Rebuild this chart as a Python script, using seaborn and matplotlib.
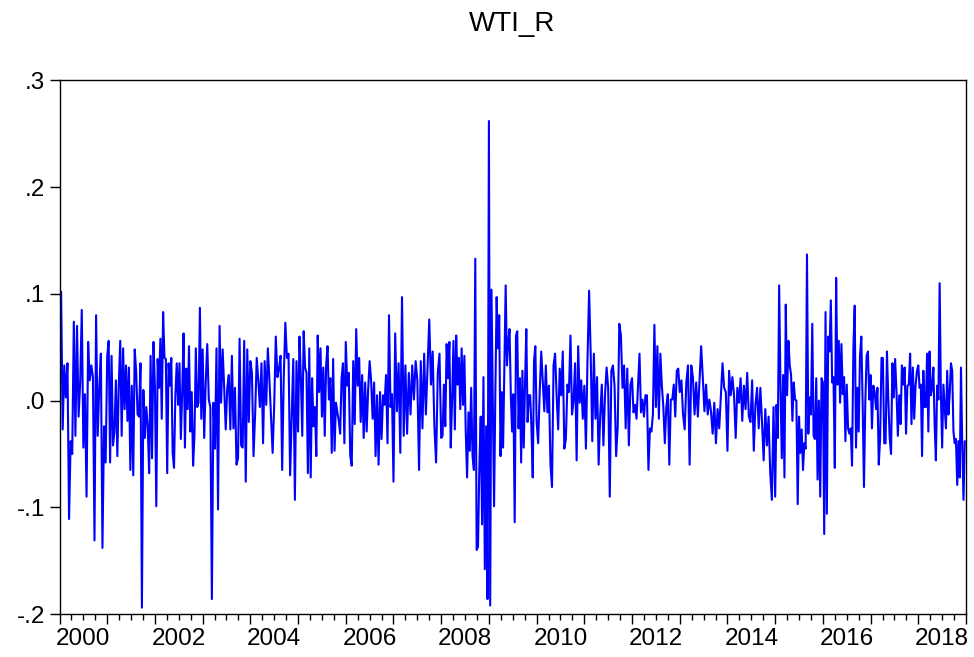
import matplotlib
matplotlib.use("Agg")
import numpy as np
import pandas as pd
import seaborn as sns
import matplotlib.pyplot as plt

# weekly WTI returns
r2000 = [.045, .102, -.027, .033, .003, .035, -.111, -.038, -.05, .074, -.033, .07, -.015, .017, .085,
         -.044, .006, -.09, .055, .019, .033, .022, -.131, .08, -.033, .012, .044, -.138, -.024, -.058]
r2001 = [.042, .056, -.058, .042, -.042, -.029, .019, -.052, .015, .056, -.033, .049, -.008, .033, -.019,
         .031, -.065, .014, -.07, .048, .028, -.013, -.015, .035, -.194, .01, -.035, -.006, -.024, -.068,
         .042, -.054, .055]
r2002 = [.012, -.099, .039, .012, .058, -.017, .083, .04, .039, -.068, .035, .014, .04, -.049, -.063,
         .005, .035, -.004, .035, -.036, .008, .063, -.044, .03, -.008, .051, -.029, .008, -.061, -.033,
         .049, -.006, -.002, .087, -.017]
r2003 = [.048, -.035, .017, .053, .001, -.006, -.186, -.002, -.045, .049, -.102, .07, -.002, .048, .012,
         -.027, .012, .024, -.027, .042, -.026, .012, -.06, -.054, .058, -.042, -.044, .056, -.076, .048,
         -.02]
r2004 = [.037, .026, -.052, -.013, .04, .019, -.006, .035, -.04, .037, -.004, .049, .019, -.015, -.049,
         -.004, .06, .022, .03, .042, -.065, .022, .073, .04, .044, -.07, -.017, .039, -.093, .037]
r2005 = [-.029, .06, .021, -.033, .065, .031, .026, -.068, .049, -.072, .021, -.024, -.006, -.052, .061,
         .008, .049, -.015, .031, -.033, .033, .051, .001, .021, -.049, .039, -.047, -.002, -.011, -.019,
         -.031, .021, .035, -.04]
r2006 = [.055, .014, .026, -.052, -.061, .037, -.022, .067, .014, .04, -.02, .024, -.035, .017, -.029,
         .01, .037, .019, -.017, .017, -.052, .005, -.06, .008, -.036, .005, -.004, .024, -.04, .08,
         -.006, .006]
r2007 = [-.076, .063, -.01, .035, -.049, .097, -.033, .033, -.031, .026, -.013, .033, .001, .037, .019,
         -.065, .037, -.026, .044, -.013, .031, .076, .015, .046, -.024, -.058, .026, .044]
r2008 = [-.035, -.033, .015, -.024, .053, .021, .055, -.044, .001, .056, -.027, .061, .015, .04, -.008,
         .049, -.004, .042, -.029, -.072, -.011, -.047, .012, -.052, -.065, .133, -.14, -.137, -.061, -.015,
         -.116, .022, -.158, -.024, -.186]
r2009 = [.262, -.192, .104, .001, -.099, .008, .097, .049, .08, -.052, .008, -.044, .033, .108, .033,
         .055, .067, .005, -.029, .006, -.114, .061, .065, -.026, .021, -.058, .028, -.044, .015, .067,
         -.02, .005, .005, -.026, -.072, .037, .051]
r2010 = [-.02, -.04, .008, .046, .017, -.01, .033, -.011, .014, -.06, -.081, .033, .044, .005, -.027,
         .03, .005, .046, -.045, -.036, .015, .008, .061, -.013, .0, .035, -.056, .051, -.002, .019,
         -.017]
r2011 = [.014, -.045, .039, .103, .044, -.038, .044, -.017, .022, -.06, -.013, .015, -.042, .005, .031,
         .012, -.09, .028, .033, .014, -.052, -.024, .072, .061, .012, .033, -.026, .03, -.042, .015]
r2012 = [.021, -.011, -.004, -.017, .014, .044, -.011, .001, -.015, .005, .005, -.065, -.026, -.029, -.013,
         .071, -.006, .051, -.017, .044, .014, -.006, -.04, -.006, .006, -.06, .001, .001, .015, -.015,
         .028, .03]
r2013 = [.008, .019, -.013, -.027, .017, .033, -.06, .033, .022, -.013, .017, -.015, .017, .051, .022,
         -.01, .015, -.013, .001, -.01, -.031, -.002, -.04, -.008, -.026, .005, .035, .012, .008]
r2014 = [-.047, .028, .005, .022, .005, -.035, .012, -.002, .021, -.019, .014, -.008, .026, -.015, -.02,
         .019, -.047, -.004, .012, -.026, .012, -.02, -.056, -.008, -.042, -.015, -.068, -.093, -.006]
r2015 = [-.09, -.004, -.035, .108, .014, -.054, .024, -.072, .09, .005, .056, .033, .024, -.019, .017,
         .001, .0, -.097, -.015, -.049, -.027, -.065, -.04, -.045, .137, -.031, .003, -.013, .072, -.033,
         -.036, .021, -.074, .0, -.09, .021]
r2016 = [.017, -.125, .083, -.106, .06, .046, .094, .017, .022, -.063, .115, .015, .056, -.002, .053,
         .006, .022, -.038, .015, -.026, -.031, -.026, -.061, .048, .089, -.044, .012, -.029, .042, .06,
         -.002, -.081, -.002, .042, .046, .001]
r2017 = [.024, -.026, .014, .008, -.008, .012, -.06, -.035, .04, .04, -.04, -.04, .046, .001, -.035,
         -.05, .035, .003, .039, .008, -.033, .005, -.022, .033, .015, .031, -.031, .014, .015, .044,
         -.022, .031, -.017, .014, .028]
r2018 = [.033, .012, .015, -.052, .028, -.006, -.006, .044, -.029, .046, .005, .012, .031, -.022, -.056,
         .014, .001, .11, .005, -.044, .015, -.006, -.026, .028, -.013, .006, .035, .028, -.029, -.04,
         -.036, -.079, -.038, -.072, .031, -.042, -.093, -.038]

years = list(range(2000, 2019))
yearly = [r2000, r2001, r2002, r2003, r2004, r2005, r2006, r2007, r2008, r2009,
          r2010, r2011, r2012, r2013, r2014, r2015, r2016, r2017, r2018]

y_ticks = [-0.2, -0.1, 0.0, 0.1, 0.2, 0.3]
y_tick_labels = ["-.2", "-.1", ".0", ".1", ".2", ".3"]
label_years = list(range(2000, 2019, 2))


def build_frame(years, yearly):
    rows = []
    for yr, vals in zip(years, yearly):
        n = len(vals)
        for i, v in enumerate(vals):
            rows.append((yr + i / n, v))
    return pd.DataFrame(rows, columns=["date", "WTI_R"])


def main():
    df = build_frame(years, yearly)

    sns.set_style("ticks")
    plt.rcParams["font.family"] = ["Liberation Sans", "DejaVu Sans"]

    fig = plt.figure(figsize=(9.74, 6.57), dpi=100)
    ax = fig.add_axes([0.0611, 0.0654, 0.9307, 0.8121])

    sns.lineplot(data=df, x="date", y="WTI_R", ax=ax, color="#0000FF",
                 linewidth=1.5, estimator=None, sort=False)

    ax.set_xlim(2000, 2018.99)
    ax.set_ylim(-0.2, 0.3)

    # year boundaries as long ticks, quarters as short ones, labels mid-year
    ax.set_xticks(years + [2019], labels=[""] * (len(years) + 1))
    minor = []
    minor_labels = []
    for yr in years:
        for q in (0.25, 0.5, 0.75):
            minor.append(yr + q)
            minor_labels.append(str(yr) if (q == 0.5 and yr in label_years) else "")
    ax.set_xticks(minor, labels=minor_labels, minor=True)
    ax.set_yticks(y_ticks, labels=y_tick_labels)

    ax.tick_params(axis="x", which="major", direction="out", length=7.5, width=1.0, color="black")
    ax.tick_params(axis="x", which="minor", direction="out", length=4.0, width=1.0, color="black",
                   labelsize=17.5, labelcolor="black", pad=6)
    ax.tick_params(axis="y", direction="out", length=7.5, width=1.0, color="black",
                   labelsize=17.5, labelcolor="black", pad=3)

    for s in ax.spines.values():
        s.set_color("black")
        s.set_linewidth(1.0)

    ax.set_xlabel("")
    ax.set_ylabel("")
    ax.grid(False)

    fig.text(0.5257, 1 - 24 / 657, "WTI_R", ha="center", va="center", fontsize=20, color="black")

    fig.savefig("out.png", dpi=100)


if __name__ == "__main__":
    main()
